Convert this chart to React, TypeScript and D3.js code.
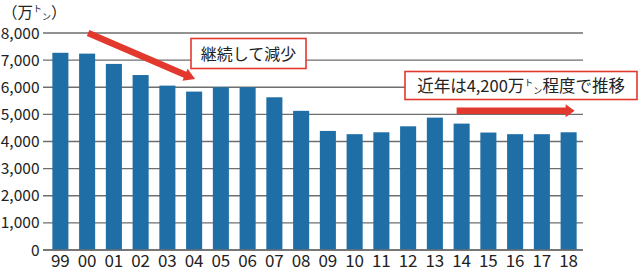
import React from "react";
import * as d3 from "d3";

const years = ["99","00","01","02","03","04","05","06","07","08","09","10","11","12","13","14","15","16","17","18"];
const values = [7270,7240,6860,6450,6060,5840,6000,6000,5630,5130,4390,4270,4340,4560,4880,4660,4330,4270,4270,4340];
const yTicks = [0,1000,2000,3000,4000,5000,6000,7000,8000];

const W = 640, H = 272;
const FONT = "'Noto Sans CJK JP', 'Noto Sans', sans-serif";
const BAR = "#1f6ea6";
const RED = "#e2382d";

function arrowPath(x1: number, y1: number, x2: number, y2: number, sw: number, hw: number, hl: number) {
  const dx = x2 - x1, dy = y2 - y1;
  const len = Math.hypot(dx, dy);
  const ux = dx / len, uy = dy / len;
  const nx = -uy, ny = ux;
  const bx = x2 - ux * hl, by = y2 - uy * hl;
  const pts: [number, number][] = [
    [x1 + nx * sw / 2, y1 + ny * sw / 2],
    [bx + nx * sw / 2, by + ny * sw / 2],
    [bx + nx * hw / 2, by + ny * hw / 2],
    [x2, y2],
    [bx - nx * hw / 2, by - ny * hw / 2],
    [bx - nx * sw / 2, by - ny * sw / 2],
    [x1 - nx * sw / 2, y1 - ny * sw / 2],
  ];
  return "M" + pts.map(p => p.join(",")).join("L") + "Z";
}

export default function App() {
  const x = d3.scaleBand<string>().domain(years).range([47, 582]).paddingInner(0.4).paddingOuter(0.2);
  const y = d3.scaleLinear().domain([0, 8000]).range([250, 33]);
  const cx = (k: string) => (x(k) as number) + x.bandwidth() / 2;

  const a1 = arrowPath(cx("00") + 1, y(8000), cx("04") + 1, y(6300), 6.5, 13, 11);
  const a2 = arrowPath(cx("14") - 5, y(5130), cx("18") + 6, y(5130), 6.5, 13, 9);

  return (
    <svg width={W} height={H} style={{ position: "absolute", left: 0, top: 0, background: "#fff" }} fontFamily={FONT}>
      {yTicks.map(t => (
        <g key={t}>
          <line x1={43} x2={583} y1={y(t)} y2={y(t)} stroke="#6e6e6e" strokeWidth={1.4} />
          <text x={39.5} y={y(t)} dy="0.36em" textAnchor="end" fontSize={15.5} fill="#222">{d3.format(",")(t)}</text>
        </g>
      ))}
      {years.map((k, i) => (
        <rect key={k} x={x(k)} y={y(values[i])} width={x.bandwidth()} height={y(0) - y(values[i])} fill={BAR} />
      ))}
      <line x1={43} x2={583} y1={y(0)} y2={y(0)} stroke="#6e6e6e" strokeWidth={1.4} />
      {years.map(k => (
        <text key={k} x={cx(k)} y={267} textAnchor="middle" fontSize={17} fill="#222">{k}</text>
      ))}
      <text x={2} y={18} fontSize={15.5} fill="#222">
        （万<tspan fontSize={9} dy={-6}>ト</tspan><tspan fontSize={9} dy={8}>ン</tspan><tspan dy={-2}>）</tspan>
      </text>
      <path d={a1} fill={RED} />
      <path d={a2} fill={RED} />
      <rect x={191} y={38.5} width={115} height={30} fill="#fff" stroke={RED} strokeWidth={1.6} />
      <text x={248.5} y={54} dy="0.36em" textAnchor="middle" fontSize={16} fill="#222">継続して減少</text>
      <rect x={405} y={71.5} width={232} height={28} fill="#fff" stroke={RED} strokeWidth={1.6} />
      <text x={521} y={86} dy="0.36em" textAnchor="middle" fontSize={16.5} fill="#222">
        近年は4,200万<tspan fontSize={9} dy={-6}>ト</tspan><tspan fontSize={9} dy={8}>ン</tspan><tspan dy={-2}>程度で推移</tspan>
      </text>
    </svg>
  );
}
